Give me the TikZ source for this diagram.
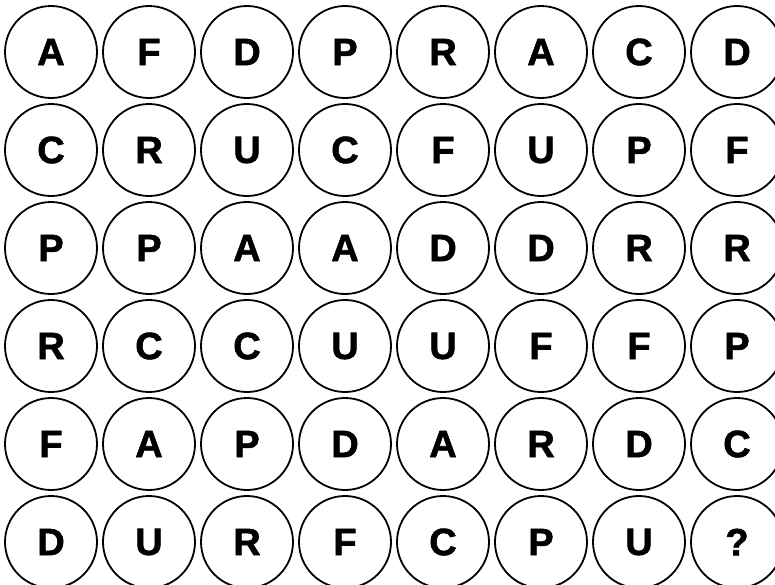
\documentclass[tikz,border=0pt]{standalone}
\usepackage{fontspec}
\setmainfont{Liberation Sans}
\newfontfamily\cellfont{Liberation Sans Bold}[FakeBold=1.6]
\begin{document}
\begin{tikzpicture}[x=1pt,y=-1pt,
  cell/.style={circle,draw,line width=1.8pt,minimum size=92pt,inner sep=0pt,
    font=\cellfont\fontsize{38}{38}\selectfont}]
\useasboundingbox (0,0) rectangle (775,584);
\foreach \row [count=\j from 0] in {{A,F,D,P,R,A,C,D},{C,R,U,C,F,U,P,F},{P,P,A,A,D,D,R,R},{R,C,C,U,U,F,F,P},{F,A,P,D,A,R,D,C},{D,U,R,F,C,P,U,?}}{
  \foreach \l [count=\i from 0] in \row {
    \node[cell] (c-\i-\j) at ({51+98*\i},{52+98*\j}) {\l};
  }
}
\end{tikzpicture}
\end{document}
